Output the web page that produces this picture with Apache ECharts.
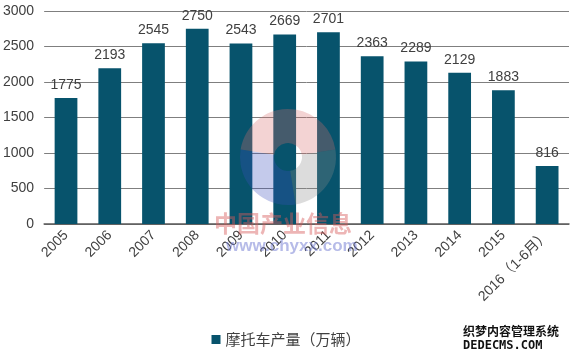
<!DOCTYPE html>
<html><head><meta charset="utf-8">
<script src="https://cdn.jsdelivr.net/npm/echarts@6/dist/echarts.min.js"></script>
<style>html,body{margin:0;padding:0;background:#fff}#c{width:572px;height:358px}</style>
</head><body><div id="c"></div>
<script>
var categories = ['2005','2006','2007','2008','2009','2010','2011','2012','2013','2014','2015','2016（1-6月）'];
var production = [1775,2193,2545,2750,2543,2669,2701,2363,2289,2129,1883,816];
var yTicks = [0,500,1000,1500,2000,2500,3000];
var seriesName = '摩托车产量（万辆）';

var chart = echarts.init(document.getElementById('c'));
var font = '"Liberation Sans", Arial, "Noto Sans CJK SC", sans-serif';
var cx = 288, cy = 157;
chart.setOption({
  animation: false,
  textStyle: {fontFamily: font},
  grid: {left: 43, right: 3, top: 11, bottom: 134},
  legend: {
    bottom: 6, left: 'center', itemWidth: 9, itemHeight: 9, itemGap: 5,
    icon: 'rect',
    textStyle: {fontSize: 15, color: '#404040', fontFamily: '"Noto Sans CJK SC", sans-serif'},
    data: [seriesName]
  },
  xAxis: {
    type: 'category', data: categories,
    axisLine: {lineStyle: {color: '#595959', width: 1.5}},
    axisTick: {show: false},
    axisLabel: {rotate: 45, fontSize: 14, color: '#404040', margin: 9, interval: 0}
  },
  yAxis: {
    type: 'value', min: yTicks[0], max: yTicks[yTicks.length-1], interval: 500,
    axisLine: {show: false}, axisTick: {show: false},
    splitLine: {lineStyle: {color: '#7f7f7f', width: 1}},
    axisLabel: {fontSize: 14, color: '#404040', margin: 10, formatter: function(v){return String(v);}}
  },
  graphic: [
    {type: 'sector', z: 100, shape: {cx: cx, cy: cy, r: 48, r0: 14, startAngle: -Math.PI*0.95, endAngle: -Math.PI*0.05}, style: {fill: 'rgba(215,110,110,0.3)'}},
    {type: 'sector', z: 100, shape: {cx: cx, cy: cy, r: 48, r0: 14, startAngle: Math.PI*0.45, endAngle: Math.PI*1.05}, style: {fill: 'rgba(60,80,190,0.3)'}},
    {type: 'sector', z: 100, shape: {cx: cx, cy: cy, r: 48, r0: 14, startAngle: -Math.PI*0.05, endAngle: Math.PI*0.45}, style: {fill: 'rgba(140,140,140,0.3)'}},
    {type: 'text', z: 100, left: 214, top: 212, style: {text: '中国产业信息', fontSize: 23, fontWeight: 'bold', fill: 'rgba(215,90,90,0.45)', fontFamily: '"Noto Sans CJK SC", sans-serif'}},
    {type: 'text', z: 100, left: 226, top: 238, style: {text: 'www.chyxx.com', fontSize: 17, fontWeight: 'bold', fill: 'rgba(110,120,210,0.5)', fontFamily: font}},
    {type: 'text', z: 100, left: 463, top: 325, style: {text: '织梦内容管理系统', fontSize: 12, fontWeight: 'bold', fill: '#111', fontFamily: '"Noto Sans CJK SC", sans-serif'}},
    {type: 'text', z: 100, left: 463, top: 340, style: {text: 'DEDECMS.COM', fontSize: 12, fontWeight: 'bold', fill: '#111', fontFamily: '"DejaVu Sans Mono", monospace'}}
  ],
  series: [{
    name: seriesName, type: 'bar', data: production, barWidth: '52%',
    itemStyle: {color: '#07536C'},
    label: {show: true, position: 'top', distance: 6, fontSize: 14, color: '#404040'}
  }]
});
</script></body></html>
